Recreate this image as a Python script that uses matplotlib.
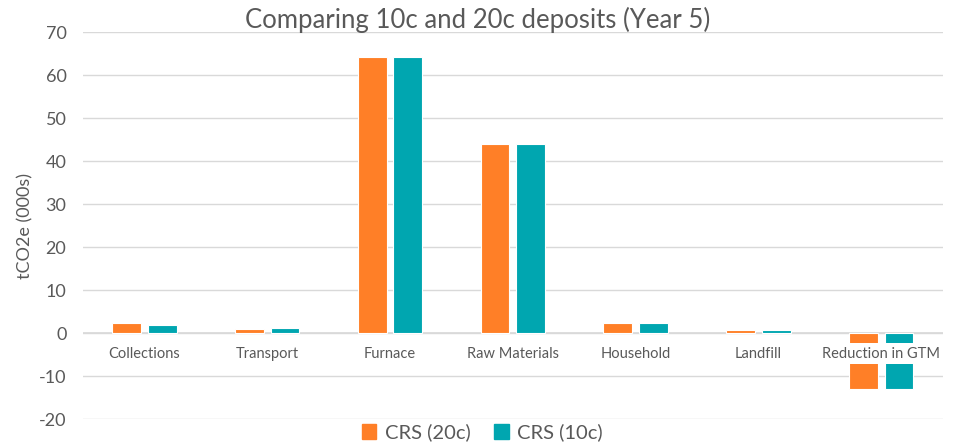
import numpy as np
import matplotlib.pyplot as plt
from matplotlib.patches import Patch

categories = ["Collections", "Transport", "Furnace", "Raw Materials",
              "Household", "Landfill", "Reduction in GTM"]
crs_20c = [2.3, 0.9, 64.3, 43.9, 2.3, 0.8, -13.0]
crs_10c = [1.9, 1.1, 64.3, 43.9, 2.3, 0.8, -13.0]
series_names = ["CRS (20c)", "CRS (10c)"]

orange = "#FF7F27"
teal = "#00A6B0"
grey = "#595959"

plt.rcParams['font.family'] = ['Lato', 'DejaVu Sans']
plt.rcParams['axes.unicode_minus'] = False

fig = plt.figure(figsize=(9.55, 4.46), dpi=100)
ax = fig.add_axes([0.087, 0.0605, 0.9, 0.8675])

x = np.arange(len(categories))
w = 0.235
ax.bar(x - 0.145, crs_20c, w, color=orange, edgecolor="white", linewidth=0.8, zorder=2)
ax.bar(x + 0.145, crs_10c, w, color=teal, edgecolor="white", linewidth=0.8, zorder=2)

ax.set_xlim(-0.5, len(categories) - 0.5)
ax.set_ylim(-20, 70)
ax.set_yticks(np.arange(-20, 71, 10))
ax.grid(axis="y", color="#D9D9D9", linewidth=1, zorder=0)
ax.axhline(0, color="#D9D9D9", linewidth=1.2, zorder=1)
ax.set_xticks([])
for s in ax.spines.values():
    s.set_visible(False)
ax.tick_params(axis="y", length=0, labelsize=13, colors=grey, pad=12)

# category labels sit just under the zero line, boxed in white
for xi, name in zip(x, categories):
    ax.text(xi, -4.8, name, ha="center", va="center", fontsize=10.5, color=grey,
            bbox=dict(facecolor="white", edgecolor="none", pad=2.5), zorder=3)

ax.set_ylabel("tCO2e (000s)", fontsize=13, color=grey)
ax.yaxis.set_label_coords(-0.058, 0.5)
fig.text(0.5, 0.955, "Comparing 10c and 20c deposits (Year 5)", ha="center",
         va="center", fontsize=18.5, color=grey)

handles = [Patch(color=orange), Patch(color=teal)]
fig.legend(handles, series_names, loc="center", bbox_to_anchor=(0.505, 0.03),
           ncol=2, frameon=False, fontsize=14.5, labelcolor=grey,
           handlelength=0.7, handleheight=0.7, handletextpad=0.4, columnspacing=1.2)

fig.savefig("out.png", dpi=100)
